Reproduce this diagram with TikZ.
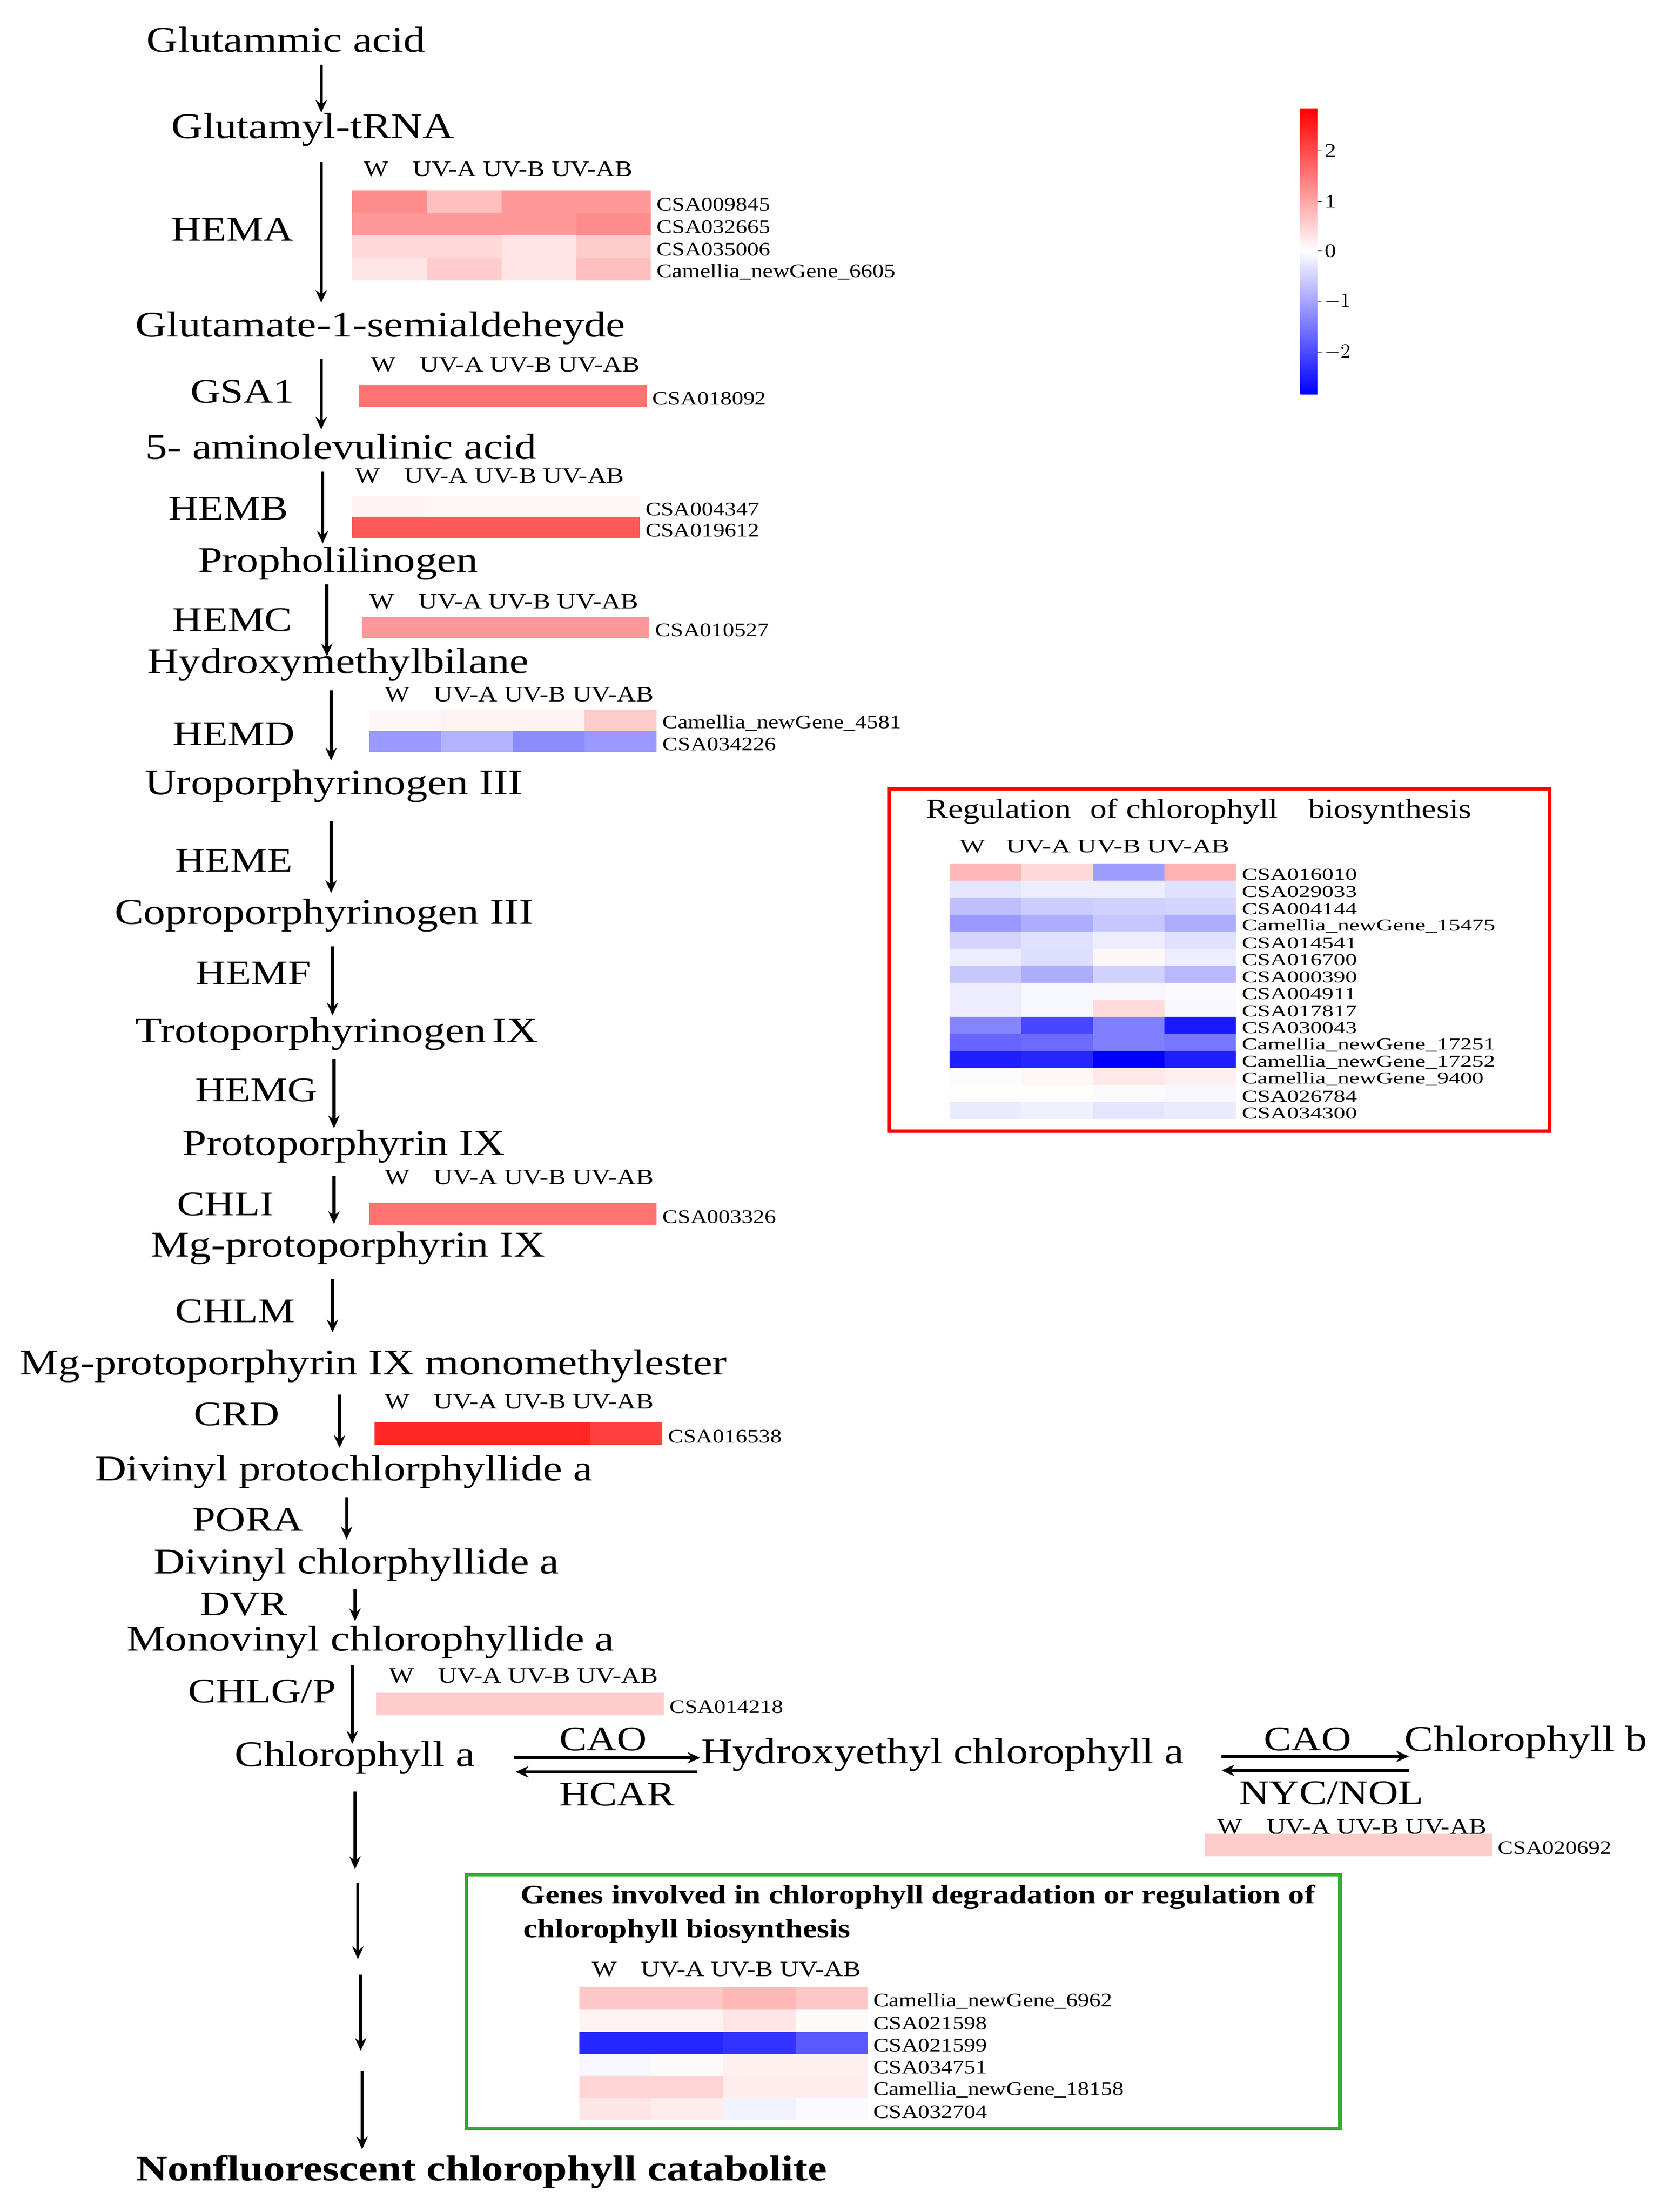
\documentclass[tikz,border=0pt]{standalone}
\usepackage{fontspec}
\setmainfont[FakeStretch=1.2]{Liberation Serif}
\newfontfamily\widefont[FakeStretch=1.4]{Liberation Serif}
\usetikzlibrary{arrows.meta}

% heatmap row: x, y top, cell width, cell height, values (+red/-blue), gene
\newcommand{\hmrow}[6]{%
  \edef\hmvals{#5}%
  \foreach \v [count=\i] in \hmvals {
    \pgfmathtruncatemacro\a{abs(\v)}
    \ifnum\v<0 \def\hc{blue!\a!white}\else\def\hc{red!\a!white}\fi
    \fill[fill=\hc] ({#1+(\i-1)*#3},{#2}) rectangle ++(#3,#4);
  }
  \node[gene, anchor=west] at ({#1+4*#3+4},{#2+#4/2+2}) {#6};
}
\newcommand{\hmhead}[2]{\node[head, anchor=west] at (#1,#2) {W\hspace{1.1em}UV-A UV-B UV-AB};}

\begin{document}
\begin{tikzpicture}[x=1pt, y=-1pt,
    met/.style={font=\fontsize{25.7}{27}\selectfont, inner sep=1pt},
    enz/.style={font=\fontsize{24.5}{26}\selectfont, inner sep=1pt},
    head/.style={font=\fontsize{15.6}{16}\selectfont, inner sep=0pt},
    gene/.style={font=\fontsize{13.6}{14}\selectfont, inner sep=0pt},
    pw/.style={-{Stealth[length=9pt,width=8pt]}, line width=2.2pt}]

  \useasboundingbox (0,0) rectangle (1183,1570.5);

  % pathway
  \node[met] (glu)  at (203,28)  {Glutammic acid};
  \node[met] (trna) at (222,92)  {Glutamyl-tRNA};
  \node[met] (gsa)  at (270,233) {Glutamate-1-semialdeheyde};
  \node[met] (ala)  at (242,317) {5- aminolevulinic acid};
  \node[met] (pbg)  at (240,400) {Propholilinogen};
  \node[met] (hmb)  at (240,472) {Hydroxymethylbilane};
  \node[met] (uro)  at (237,558) {Uroporphyrinogen III};
  \node[met] (copro) at (230,650) {Coproporphyrinogen III};
  \node[met] (proto) at (239,734) {Trotoporphyrinogen\,IX};
  \node[met] (ppix) at (244,814) {Protoporphyrin IX};
  \node[met] (mgp)  at (247,886) {Mg-protoporphyrin IX};
  \node[met] (mgpme) at (265,970) {Mg-protoporphyrin IX monomethylester};
  \node[met] (dvp)  at (244,1045) {Divinyl protochlorphyllide a};
  \node[met] (dvc)  at (253,1111) {Divinyl chlorphyllide a};
  \node[met] (mvc)  at (263,1166) {Monovinyl chlorophyllide a};
  \node[met] (chla) at (252,1248) {Chlorophyll a};
  \node[met] (hcha) at (669,1246) {Hydroxyethyl chlorophyll a};
  \node[met] (chlb) at (1083,1237) {Chlorophyll b};
  \node[met, font=\bfseries\fontsize{25.5}{27}\selectfont] (ncc) at (342,1542) {Nonfluorescent chlorophyll catabolite};

  \node[enz] (hema) at (165,163) {HEMA};
  \node[enz] (gsa1) at (172,278) {GSA1};
  \node[enz] (hemb) at (162,361) {HEMB};
  \node[enz] (hemc) at (165,440) {HEMC};
  \node[enz] (hemd) at (166,521) {HEMD};
  \node[enz] (heme) at (166,611) {HEME};
  \node[enz] (hemf) at (180,691) {HEMF};
  \node[enz] (hemg) at (182,774) {HEMG};
  \node[enz] (chli) at (160,855) {CHLI};
  \node[enz] (chlm) at (167,931) {CHLM};
  \node[enz] (crd)  at (168,1004) {CRD};
  \node[enz] (pora) at (176,1079) {PORA};
  \node[enz] (dvr)  at (173,1139) {DVR};
  \node[enz] (chlg) at (186,1201) {CHLG/P};
  \node[enz] (cao1) at (428,1235) {CAO};
  \node[enz] (hcar) at (438,1274) {HCAR};
  \node[enz] (cao2) at (928,1235) {CAO};
  \node[enz] (nyc)  at (945,1273) {NYC/NOL};

  % arrows
  \foreach \x/\ya/\yb in {228/46/80, 228/115/215, 228/255/305, 229/335/386,
      232/415/466, 235/490/540, 235/583/634, 236/672/721, 237/752/801,
      237/835/869, 236/908/946, 241/990/1028, 246/1063/1093, 252/1128/1151,
      250/1182/1238, 252/1272/1327, 254/1337/1391, 256/1402/1456, 257/1470/1526}
    \draw[pw] (\x,\ya) -- (\x,\yb);
  \draw[pw] (365,1248) -- (497,1248);
  \draw[pw] (495,1258) -- (366,1258);
  \draw[pw] (867,1247) -- (1000,1247);
  \draw[pw] (1000,1257) -- (867,1257);

  % heatmaps along the pathway
  \hmhead{258}{120}
  \hmrow{250}{135}{53}{16}{45,25,40,40}{CSA009845}
  \hmrow{250}{151}{53}{16}{40,40,40,45}{CSA032665}
  \hmrow{250}{167}{53}{16}{15,15,10,20}{CSA035006}
  \hmrow{250}{183}{53}{16}{10,20,10,25}{Camellia\_newGene\_6605}
  \hmhead{263}{259}
  \hmrow{255}{273}{51}{16}{55,55,55,55}{CSA018092}
  \hmhead{252}{338}
  \hmrow{250}{352}{51}{15}{5,3,3,3}{CSA004347}
  \hmrow{250}{367}{51}{15}{65,65,65,65}{CSA019612}
  \hmhead{262}{427}
  \hmrow{257}{438}{51}{15}{40,40,40,40}{CSA010527}
  \hmhead{273}{493}
  \hmrow{262}{504}{51}{15}{3,5,5,20}{Camellia\_newGene\_4581}
  \hmrow{262}{519}{51}{15}{-40,-30,-45,-40}{CSA034226}
  \hmhead{273}{836}
  \hmrow{262}{854}{51}{16}{55,55,55,55}{CSA003326}
  \hmhead{273}{995}
  \hmrow{266}{1010}{51}{16}{85,85,85,75}{CSA016538}
  \hmhead{276}{1190}
  \hmrow{267}{1202}{51}{16}{20,20,20,20}{CSA014218}
  \hmhead{864}{1297}
  \hmrow{855}{1302}{51}{16}{20,20,20,20}{CSA020692}

  % red box
  \draw[red, line width=2.5pt] (631,560) rectangle (1100,803);
  \node[anchor=west, font=\fontsize{19.5}{21}\selectfont] (regt) at (654,576)
    {Regulation\hspace{0.7em}of chlorophyll\hspace{1.1em}biosynthesis};
  \node[head, anchor=west, font=\widefont\fontsize{13.6}{14}\selectfont] (regh) at (681,601) {W\hspace{1.1em}UV-A UV-B UV-AB};
  \foreach \vals/\g [count=\r] in {
      {28,15,-38,30}/CSA016010, {-10,-7,-7,-12}/CSA029033,
      {-25,-20,-18,-17}/CSA004144, {-40,-32,-22,-32}/Camellia\_newGene\_15475,
      {-17,-12,-7,-12}/CSA014541, {-7,-13,3,-7}/CSA016700,
      {-22,-32,-18,-28}/CSA000390, {-7,-3,-3,-2}/CSA004911,
      {-7,-3,14,-3}/CSA017817, {-48,-72,-50,-90}/CSA030043,
      {-60,-58,-50,-53}/Camellia\_newGene\_17251, {-88,-85,-100,-88}/Camellia\_newGene\_17252,
      {-1,3,9,6}/Camellia\_newGene\_9400, {1,1,-2,-3}/CSA026784,
      {-8,-6,-10,-8}/CSA034300}
    {\hmrow{674}{613+(\r-1)*12.1}{50.8}{12.1}{\vals}{\widefont\fontsize{11.8}{12}\selectfont\g}}

  % green box
  \draw[green!60!black!80, line width=2.5pt] (331,1331) rectangle (951,1511);
  \node[anchor=west, font=\bfseries\fontsize{18.8}{20}\selectfont] (degt1) at (366,1347)
    {Genes involved in chlorophyll degradation or regulation of};
  \node[anchor=west, font=\bfseries\fontsize{18.8}{20}\selectfont] (degt2) at (368,1371)
    {chlorophyll biosynthesis};
  \hmhead{420}{1398}
  \foreach \vals/\g [count=\r] in {
      {22,22,28,22}/Camellia\_newGene\_6962, {5,5,10,2}/CSA021598,
      {-85,-85,-80,-65}/CSA021599, {-3,2,6,6}/CSA034751,
      {17,17,7,7}/Camellia\_newGene\_18158, {10,7,-5,-2}/CSA032704}
    {\hmrow{411}{1411+(\r-1)*15.7}{51.2}{15.7}{\vals}{\g}}

  % colour key
  \shade[top color=red, bottom color=white] (923,77) rectangle (935,178);
  \shade[top color=white, bottom color=blue] (923,178) rectangle (935,280);
  \foreach \t/\y in {2/107, 1/143, 0/178, $-1$/214, $-2$/250} {
    \draw (935,\y) -- (938,\y);
    \node[gene, anchor=west] at (940,\y) {\t};
  }
\end{tikzpicture}
\end{document}
